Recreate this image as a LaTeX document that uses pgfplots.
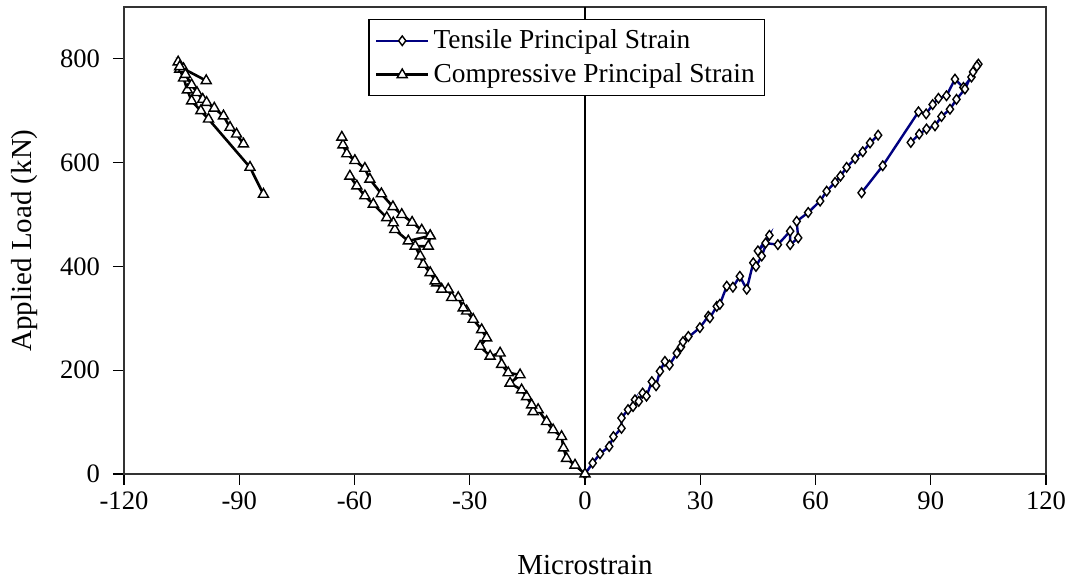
\documentclass[border=0pt]{standalone}
\usepackage{pgfplots}
\pgfplotsset{compat=1.18}
\usepackage{fontspec}
\setmainfont{Liberation Serif}
\definecolor{tblue}{RGB}{0,0,128}
\begin{document}
\begin{tikzpicture}
\begin{axis}[
  scale only axis,
  width=461pt, height=233.5pt,
  xmin=-120, xmax=120, ymin=0, ymax=900,
  xtick={-120,-90,-60,-30,0,30,60,90,120},
  xticklabels={-120,-90,-60,-30,0,30,60,90,120},
  ytick={0,200,400,600,800},
  yticklabels={0,200,400,600,800},
  xtick pos=bottom, ytick pos=left,
  tick align=outside, major tick length=5.5pt,
  tick style={black, line width=0.6pt},
  axis line style={black!80, line width=0.6pt},
  tick label style={font=\fontsize{13.3}{15}\selectfont},
  yticklabel style={xshift=-3pt},
  xlabel={Microstrain}, ylabel={Applied Load (kN)},
  every axis x label/.style={at={(axis description cs:0.5,-0.195)}, anchor=center, font=\fontsize{14.5}{17}\selectfont},
  every axis y label/.style={at={(axis description cs:-0.1074,0.5)}, rotate=90, anchor=center, font=\fontsize{14.5}{17}\selectfont},
  unbounded coords=jump,
  legend style={at={(0.265,0.974)}, anchor=north west, draw=black, line width=0.6pt,
    font=\fontsize{13.7}{16}\selectfont, inner xsep=3pt, inner ysep=3pt, row sep=2pt, cells={anchor=west}},
  legend image code/.code={\draw[mark repeat=2,mark phase=2] plot coordinates {(0pt,0pt) (13pt,0pt) (26pt,0pt)};},
]
\draw[black, line width=0.6pt] (axis cs:0,0) -- (axis cs:0,900);
\addplot[tblue, line width=1.2pt, mark=diamond*, mark size=2.4pt,
  mark options={fill=white, draw=black, solid, line width=0.7pt}] coordinates {
(0,0) (2.0,21) (3.9,39) (6.3,53) (7.4,72) (9.5,88) (9.5,108) (11.2,124) (13,143) (12.5,130) (14,140) (15,156) (16,150) (17.4,178) (18.5,170) (19.5,198) (20.8,217) (22,210) (23.9,233) (25,245) (26.9,265) (25.5,255) (29.9,282) (32.1,304) (32.5,301) (34.3,323) (35.1,327) (36.9,362) (38.5,360) (40.3,381) (42.1,356) (43.8,407) (44.5,400) (46,420) (48,460) (45,430) (47,445) (50.2,442) (53.4,468) (53.4,442) (55.5,455) (55.1,487) (58.1,504) (61.2,526) (62.9,545) (65.1,562) (66.5,574) (68.1,591) (70.3,608) (72.3,621) (74.2,638) (76.3,653)
(nan,nan)
(72,542) (77.5,594) (86.8,698) (88.8,694) (90.5,712) (92,724) (94.1,729) (96.3,761) (98.5,745) (100.6,765) (102.4,790) (102,786) (101,775) (98.9,742) (96.7,722) (95,703) (92.8,689) (91.1,671) (88.9,665) (87,655) (84.8,639)
};
\addlegendentry{Tensile Principal Strain}
\addplot[black, line width=1.3pt, mark=triangle*, mark size=2.9pt,
  mark options={fill=white, draw=black, solid, line width=0.7pt}] coordinates {
(0,0) (-2.6,17) (-4.8,30) (-5.6,50) (-6.1,72) (-8.3,85) (-10,101) (-12.2,124) (-13.5,120) (-13.9,133) (-15.2,149) (-16.5,162) (-19.5,175) (-16.9,191) (-20,195) (-21.7,211) (-22.1,233) (-24.7,227) (-27.3,246) (-25.6,262) (-26.9,278) (-29.1,298) (-30.8,314) (-31.7,320) (-33,340) (-34.7,340) (-35.6,356) (-37.3,356) (-38.6,368) (-39,372) (-40.3,388) (-42.1,404) (-42.9,420) (-44.2,439) (-40.8,439) (-40.3,459) (-46,449) (-49.5,471) (-49.9,484) (-51.6,494) (-55.1,520) (-57.3,536) (-59.4,555) (-61.2,574)
(nan,nan)
(-40.3,459) (-42.5,470) (-45,485) (-47.7,500) (-50,515) (-53,540) (-56,568) (-57.3,589) (-59.9,604) (-62,617) (-63,634) (-63.3,649)
(nan,nan)
(-83.7,539) (-87.2,591) (-98,684) (-100,700) (-102.4,719) (-103.5,740) (-104.5,763) (-105.5,780) (-105.9,794) (-104.5,781) (-98.6,758)
(nan,nan)
(-105.5,785) (-104,770) (-102.4,750) (-101,735) (-99.5,722) (-98.5,716) (-96.5,705) (-94.1,690) (-92.4,668) (-90.7,655) (-88.9,636)
};
\addlegendentry{Compressive Principal Strain}
\end{axis}
\pgfresetboundingbox
\path[use as bounding box] ([xshift=-62pt,yshift=-52.5pt]current axis.south west) rectangle ([xshift=14pt,yshift=3.5pt]current axis.north east);
\end{tikzpicture}
\end{document}
